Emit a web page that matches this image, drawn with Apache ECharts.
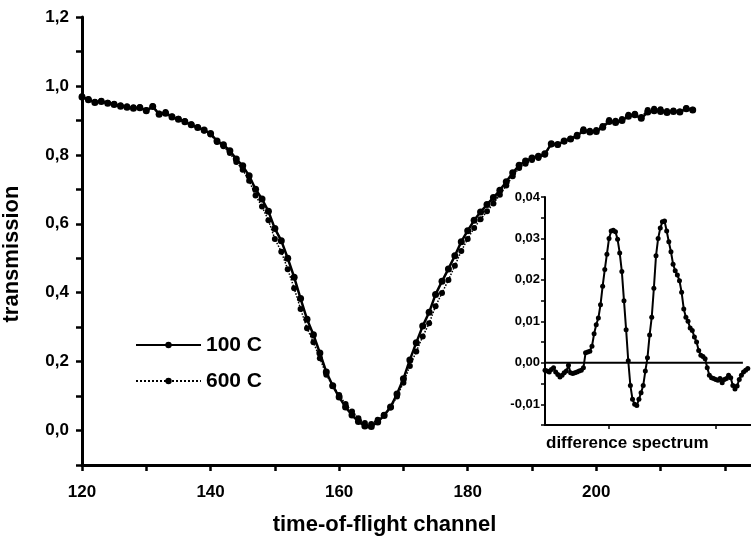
<!DOCTYPE html>
<html>
<head>
<meta charset="utf-8">
<script src="https://cdn.jsdelivr.net/npm/echarts@6/dist/echarts.min.js"></script>
<style>
  html, body { margin: 0; padding: 0; background: #fff; }
  #chart { width: 751px; height: 542px; }
</style>
</head>
<body>
<div id="chart"></div>
<script>
// time-of-flight channels 120..215, one point per channel
const firstChannel = 120;
const lastChannel = 215;

// transmission, 100 C
const trans100 = [
  0.968, 0.960, 0.952, 0.955, 0.950, 0.946, 0.941, 0.938, 0.935, 0.937,
  0.928, 0.940, 0.918, 0.921, 0.910, 0.903, 0.896, 0.887, 0.879, 0.872,
  0.862, 0.840, 0.829, 0.812, 0.788, 0.768, 0.739, 0.700, 0.672, 0.636,
  0.586, 0.551, 0.500, 0.445, 0.383, 0.323, 0.278, 0.225, 0.170, 0.130,
  0.097, 0.068, 0.045, 0.026, 0.013, 0.012, 0.025, 0.044, 0.068, 0.106,
  0.150, 0.205, 0.255, 0.303, 0.343, 0.395, 0.433, 0.469, 0.507, 0.548,
  0.580, 0.610, 0.634, 0.656, 0.676, 0.697, 0.722, 0.748, 0.770, 0.782,
  0.791, 0.796, 0.803, 0.832, 0.830, 0.840, 0.846, 0.855, 0.870, 0.866,
  0.868, 0.880, 0.897, 0.894, 0.900, 0.912, 0.916, 0.906, 0.924, 0.928,
  0.926, 0.923, 0.926, 0.924, 0.934, 0.930
];

// transmission, 600 C
const trans600 = [
  0.970, 0.962, 0.954, 0.957, 0.951, 0.948, 0.944, 0.941, 0.938, 0.939,
  0.930, 0.941, 0.920, 0.924, 0.912, 0.905, 0.898, 0.889, 0.880, 0.870,
  0.859, 0.837, 0.825, 0.805, 0.779, 0.757, 0.725, 0.682, 0.650, 0.610,
  0.556, 0.519, 0.468, 0.413, 0.353, 0.297, 0.256, 0.210, 0.162, 0.130,
  0.103, 0.077, 0.055, 0.036, 0.022, 0.019, 0.031, 0.046, 0.067, 0.099,
  0.139, 0.187, 0.229, 0.273, 0.311, 0.361, 0.399, 0.437, 0.478, 0.521,
  0.556, 0.588, 0.613, 0.636, 0.659, 0.684, 0.711, 0.738, 0.762, 0.774,
  0.785, 0.791, 0.800, 0.830, 0.829, 0.839, 0.847, 0.858, 0.874, 0.870,
  0.872, 0.884, 0.901, 0.899, 0.904, 0.916, 0.919, 0.910, 0.930, 0.934,
  0.932, 0.927, 0.929, 0.926, 0.936, 0.931
];

// difference spectrum (inset)
const diffSpectrum = [
  -0.0018, -0.0020, -0.0022, -0.0016, -0.0012, -0.0022, -0.0028, -0.0034, -0.0030, -0.0024,
  -0.0020, -0.0006, -0.0024, -0.0026, -0.0024, -0.0022, -0.0020, -0.0018, -0.0012, 0.0024,
  0.0026, 0.0028, 0.0040, 0.0070, 0.0092, 0.0108, 0.0140, 0.0185, 0.0225, 0.0262,
  0.0300, 0.0318, 0.0320, 0.0316, 0.0298, 0.0265, 0.0220, 0.0150, 0.0080, 0.0005,
  -0.0055, -0.0088, -0.0100, -0.0103, -0.0088, -0.0072, -0.0055, -0.0020, 0.0012, 0.0067,
  0.0110, 0.0180, 0.0258, 0.0300, 0.0325, 0.0340, 0.0342, 0.0318, 0.0292, 0.0268,
  0.0238, 0.0222, 0.0212, 0.0198, 0.0170, 0.0130, 0.0110, 0.0100, 0.0084, 0.0078,
  0.0062, 0.0050, 0.0030, 0.0018, 0.0015, 0.0010, -0.0012, -0.0030, -0.0036, -0.0038,
  -0.0040, -0.0042, -0.0038, -0.0048, -0.0040, -0.0038, -0.0030, -0.0036, -0.0055, -0.0063,
  -0.0056, -0.0040, -0.0030, -0.0022, -0.0018, -0.0014
];

// zero reference line of the inset (channel extent)
const zeroLineChannels = [120, 212.7];

const seriesNames = ['100 C', '600 C'];

const channels = [];
for (let c = firstChannel; c <= lastChannel; c++) channels.push(c);

const FONT = "'Liberation Sans', Arial, Helvetica, sans-serif";
const BLACK = '#000';

const commaFmt = (v, digits) => v.toFixed(digits).replace('.', ',');

const chart = echarts.init(document.getElementById('chart'), null, { renderer: 'canvas' });

const option = {
  animation: false,
  backgroundColor: '#fff',
  textStyle: { fontFamily: FONT, color: BLACK },
  title: {
    text: 'difference spectrum',
    left: 541,
    top: 430,
    textStyle: { fontFamily: FONT, fontSize: 17, fontWeight: 'bold', color: BLACK }
  },
  legend: {
    orient: 'vertical',
    left: 130,
    top: 329,
    itemWidth: 65,
    itemHeight: 8,
    itemGap: 14,
    data: seriesNames,
    textStyle: { fontFamily: FONT, fontSize: 21, fontWeight: 'bold', color: BLACK, lineHeight: 22 }
  },
  grid: [
    { left: 82, top: 17, width: 675, height: 448, outerBoundsMode: 'none', containLabel: false },
    { left: 545, top: 197, width: 206, height: 228, outerBoundsMode: 'none', containLabel: false }
  ],
  xAxis: [
    {
      gridIndex: 0,
      type: 'value',
      min: 120,
      max: 225,
      interval: 10,
      name: 'time-of-flight channel',
      nameLocation: 'middle',
      nameGap: 49,
      nameTextStyle: { fontFamily: FONT, fontSize: 22, fontWeight: 'bold', color: BLACK, padding: [0, 70, 0, 0] },
      axisLine: { onZero: false, lineStyle: { color: BLACK, width: 3 } },
      axisTick: { inside: false, length: 6, lineStyle: { color: BLACK, width: 2.5 } },
      axisLabel: {
        margin: 19,
        fontFamily: FONT,
        fontSize: 17,
        fontWeight: 'bold',
        color: BLACK,
        formatter: v => (v % 20 === 0 && v <= 200 ? String(v) : '')
      },
      splitLine: { show: false }
    },
    {
      gridIndex: 1,
      type: 'value',
      min: 120,
      max: 216.5,
      axisLine: { onZero: false, lineStyle: { color: BLACK, width: 2 } },
      axisTick: { customValues: [150, 200], length: 4, lineStyle: { color: BLACK, width: 1.5 } },
      axisLabel: { show: false },
      splitLine: { show: false }
    }
  ],
  yAxis: [
    {
      gridIndex: 0,
      type: 'value',
      min: -0.1,
      max: 1.2,
      interval: 0.1,
      name: 'transmission',
      nameLocation: 'middle',
      nameGap: 59,
      nameTextStyle: { fontFamily: FONT, fontSize: 22, fontWeight: 'bold', color: BLACK, padding: [0, 26, 0, 0] },
      axisLine: { lineStyle: { color: BLACK, width: 3 } },
      axisTick: { inside: false, length: 6, lineStyle: { color: BLACK, width: 2.5 } },
      axisLabel: {
        margin: 13,
        fontFamily: FONT,
        fontSize: 17,
        fontWeight: 'bold',
        color: BLACK,
        formatter: v => {
          const k = Math.round(v * 10);
          return k >= 0 && k % 2 === 0 ? commaFmt(k / 10, 1) : '';
        }
      },
      splitLine: { show: false }
    },
    {
      gridIndex: 1,
      type: 'value',
      min: -0.015,
      max: 0.04,
      interval: 0.005,
      axisLine: { lineStyle: { color: BLACK, width: 2 } },
      axisTick: { inside: false, length: 4, lineStyle: { color: BLACK, width: 1.5 } },
      axisLabel: {
        margin: 5,
        fontFamily: FONT,
        fontSize: 13,
        fontWeight: 'bold',
        color: BLACK,
        formatter: v => {
          const k = Math.round(v * 1000);
          return k % 10 === 0 ? commaFmt(k / 1000, 2) : '';
        }
      },
      splitLine: { show: false }
    }
  ],
  series: [
    {
      name: '600 C',
      type: 'line',
      xAxisIndex: 0,
      yAxisIndex: 0,
      data: channels.map((c, i) => [c, trans600[i]]),
      symbol: 'circle',
      symbolSize: 6,
      itemStyle: { color: BLACK },
      lineStyle: { color: BLACK, width: 1.5, type: 'dotted' }
    },
    {
      name: '100 C',
      type: 'line',
      xAxisIndex: 0,
      yAxisIndex: 0,
      data: channels.map((c, i) => [c, trans100[i]]),
      symbol: 'circle',
      symbolSize: 7,
      itemStyle: { color: BLACK },
      lineStyle: { color: BLACK, width: 2.5 }
    },
    {
      name: 'zero',
      type: 'line',
      xAxisIndex: 1,
      yAxisIndex: 1,
      data: zeroLineChannels.map(c => [c, 0]),
      symbol: 'none',
      silent: true,
      lineStyle: { color: BLACK, width: 2 }
    },
    {
      name: 'difference',
      type: 'line',
      xAxisIndex: 1,
      yAxisIndex: 1,
      data: channels.map((c, i) => [c, diffSpectrum[i]]),
      symbol: 'circle',
      symbolSize: 5,
      itemStyle: { color: BLACK },
      lineStyle: { color: BLACK, width: 2 }
    }
  ]
};

chart.setOption(option);
</script>
</body>
</html>
